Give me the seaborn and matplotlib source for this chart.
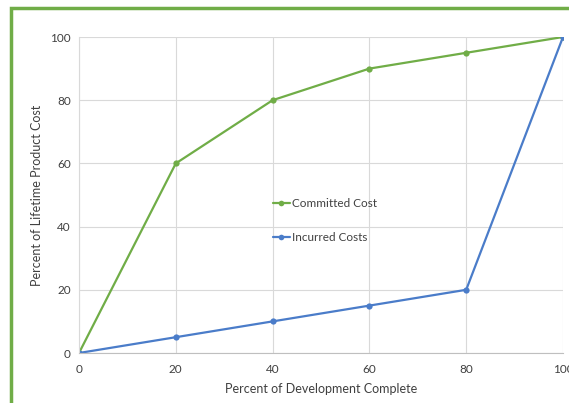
import matplotlib
matplotlib.use("Agg")
import matplotlib.pyplot as plt
from matplotlib.patches import Rectangle
import seaborn as sns
import pandas as pd

# Data
progress = [0, 20, 40, 60, 80, 100]
committed_cost = [0, 60, 80, 90, 95, 100]
incurred_costs = [0, 5, 10, 15, 20, 100]
x_ticks = [0, 20, 40, 60, 80, 100]
y_ticks = [0, 20, 40, 60, 80, 100]

sns.set_theme(style="whitegrid")
plt.rcParams["font.family"] = ["Lato", "DejaVu Sans"]

df = pd.DataFrame({
    "progress": progress * 2,
    "cost": committed_cost + incurred_costs,
    "series": ["Committed Cost"] * len(progress) + ["Incurred Costs"] * len(progress),
})

W, H = 569, 403
fig = plt.figure(figsize=(W / 100, H / 100), dpi=100)
fig.patch.set_facecolor("white")
ax = fig.add_axes([79 / W, 1 - 353 / H, (563 - 79) / W, (353 - 37) / H])

palette = {"Committed Cost": "#70AD47", "Incurred Costs": "#4A7CC9"}
sns.lineplot(data=df, x="progress", y="cost", hue="series", palette=palette,
             marker="o", markersize=4.5, markeredgewidth=0, linewidth=1.6,
             ax=ax, legend=True)

ax.set_xlim(0, 100)
ax.set_ylim(0, 100)
ax.set_xticks(x_ticks)
ax.set_yticks(y_ticks)
ax.tick_params(axis="both", labelsize=8.5, colors="#404040", length=0)
ax.tick_params(axis="x", pad=8)
ax.tick_params(axis="y", pad=6)
ax.grid(True, color="#D9D9D9", linewidth=0.8)
for side in ["top", "right"]:
    ax.spines[side].set_visible(False)
ax.spines["left"].set_color("#D9D9D9")
ax.spines["bottom"].set_color("#BFBFBF")
ax.spines["left"].set_linewidth(0.8)
ax.spines["bottom"].set_linewidth(0.8)
ax.set_xlabel("Percent of Development Complete", fontsize=9, color="#404040", labelpad=6)
ax.set_ylabel("Percent of Lifetime Product Cost", fontsize=9, color="#404040", labelpad=5)

for lbl in ax.get_xticklabels():
    lbl.set_clip_on(False)

leg = ax.legend(loc="center left", bbox_to_anchor=(0.378, 0.42), frameon=False,
                fontsize=8.5, handlelength=1.5, handletextpad=0.15,
                labelspacing=1.95, markerscale=0.9)
for t in leg.get_texts():
    t.set_color("#404040")

# Green frame around the chart
fig.patches.append(Rectangle((11 / W, -0.5), 2.0, 1.5 - 8 / H, transform=fig.transFigure,
                             fill=False, edgecolor="#70AD47", linewidth=2.5, zorder=10))

fig.savefig("out.png", dpi=100)
